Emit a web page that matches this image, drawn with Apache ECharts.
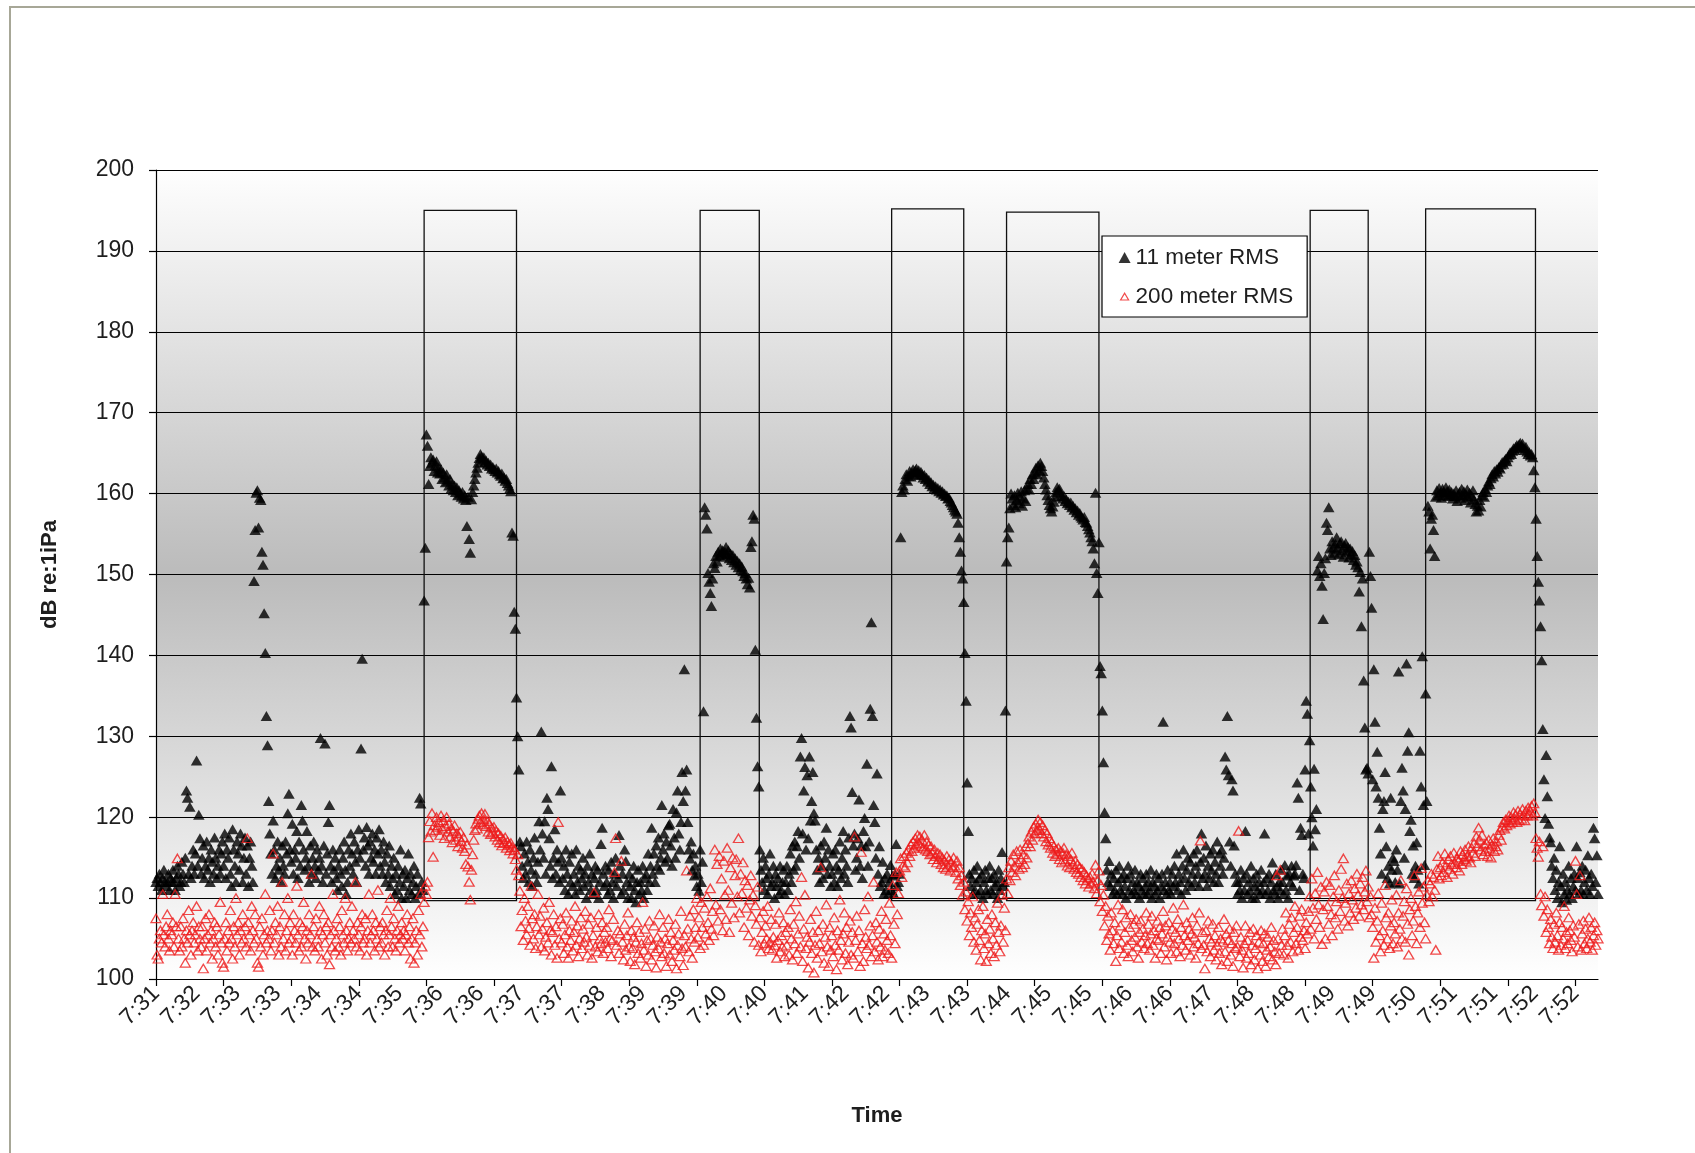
<!DOCTYPE html>
<html>
<head>
<meta charset="utf-8">
<script src="https://cdn.jsdelivr.net/npm/echarts@6/dist/echarts.min.js"></script>
<style>
  html, body { margin: 0; padding: 0; background: #ffffff; }
  #chart { width: 1695px; height: 1153px; }
</style>
</head>
<body>
<div id="chart"></div>
<script>
// Time labels along the x axis, one every 36 s from the first sample
const timeLabels = ['7:31','7:32','7:33','7:33','7:34','7:34','7:35','7:36','7:36','7:37','7:37','7:38',
  '7:39','7:39','7:40','7:40','7:41','7:42','7:42','7:43','7:43','7:44','7:45','7:45',
  '7:46','7:46','7:47','7:48','7:48','7:49','7:49','7:50','7:51','7:51','7:52','7:52'];
const labelStep = 36;   // seconds between time labels
const tickStep = 60;    // seconds between tick marks
const sampleStep = 1;   // seconds between samples
const axisEnd = 1280;   // seconds covered by the record

// Received level at 11 m, dB re 1 uPa, one value per second
const near11m = [
  112,112.5,111.5,113,112,111,112.5,113.5,112,111.5,112,113,111,112.5,112,113.5,112,111,112.5,114,
  113,111.5,112,114.5,113,112,115,123.3,122.4,113,121.3,112.5,114,116,113,115.5,127,114,120.3,117.4,
  113,115,116.5,112.5,114,117,113.5,115,112,116,114.5,113,117.5,115,112.5,114,116,113,115.5,117,
  114,118,112.5,116,115,117.5,113,111.5,118.5,116,114,112,117,115.5,113.5,118,116.5,112,115,117.5,
  113,116.5,111.5,115,117,114,112,149.2,155.5,160.1,160.4,155.8,159.5,159.2,152.8,151.2,145.2,140.3,132.5,128.9,
  122,118,115.5,113,119.6,116,112.5,114,117,113.5,115,112,116.5,114,113,117,115.5,120.5,122.9,116,
  114.5,119.2,113,116,115,118.3,112.5,117,114,121.5,119.6,116,113.5,115,118.3,114,112,116.5,113,115,
  117,114,112.5,116,113.5,115,129.8,114,112,116.5,129.1,113,115.5,119.4,121.5,114,112,116,113.5,115,
  112.5,111,114,116,113,111.5,115,117,113.5,110.5,112,116,114,118,115.5,113,117,114.5,112,116,
  118.5,115,128.5,139.6,116,117.5,114,118.8,116.5,113,117,115,118,114.5,116,113,117.5,115.5,118.5,114,
  116,113,117,114.5,112,115.5,113,116.5,111.5,114,112.5,115,110.5,113,111,114,112,116,110,113,
  111.5,113.5,110,112.5,115.5,111,113,110.5,112,114,110,111.5,113,110.5,122.4,121.7,112,111,146.8,153.3,
  167.3,165.9,161.2,163.4,164.5,163.8,164.2,162.8,163.5,164,162.6,163.2,162.5,163,161.8,162.6,162,161.4,162.4,161.6,
  161,161.8,160.6,161.2,160.4,161,160.2,160.8,159.8,160.4,160,159.6,160.2,159.4,159.8,159.2,156,159.6,154.4,152.7,
  159.3,160.2,161,161.8,162.6,163.2,163.8,164.4,164.9,164.6,164.2,164.5,163.9,164.1,163.6,163.8,163.4,163.6,163.1,163.3,
  163,162.8,163.1,162.6,162.8,162.4,162.2,162.5,161.9,162,161.6,161.8,161.3,161,160.6,160.3,155.2,154.8,145.4,143.3,
  134.8,130,125.9,117,116.4,114,112.5,115.5,113,117,114.5,112,116,113.5,111.5,115,117.5,113,112,114.5,
  119.5,116,130.6,118,115,119.5,113,122.4,121,117.4,114,126.3,112.5,115,118.5,113,116,114.5,112,123.3,
  115,112.5,114,111,116,113,110.5,114.5,112,115.5,111.5,113,110.5,116,112,114,111,113.5,112.5,115,
  111.5,113,110,114,112,115.5,111,113,110.5,112.5,114,111,113.5,110,112,116.7,118.7,113,111.5,114,
  112,110.5,113.5,111,114.5,112,110,113,115,111.5,112.5,117.8,114,110.5,113,111,116,114.6,112,110,
  113,111.5,110,112.5,114,111,109.5,112,113.5,110.5,112,111,114,110,112.5,113,111,115.5,112,114,
  118.7,113,115.5,112,116.5,114,117.5,113.5,115,121.5,116,118,114.5,117,115,119,119.2,116.5,114,121,
  117.5,115,120.6,123.3,118,116,119.4,125.6,122,138.3,123.3,125.9,119.4,116,114.9,117,113.5,115.5,112.8,114,
  111.5,113,110.9,116,112,114.5,133.1,158.3,157.4,155.7,150.2,149.1,147.7,146.1,149.5,151.4,150.8,152.3,151.6,152.8,
  152.4,153.2,152.6,153,152.2,152.8,153.4,152.5,153,152,152.6,151.8,152.4,151.5,152,151.2,151.7,150.9,151.4,150.6,
  151,150.4,149.8,150.2,149.5,148.8,149.6,148.4,153.4,154.1,157.4,156.9,140.7,132.3,126.3,123.8,116,113.5,112,115,
  111,114,112.5,110.5,113,115.5,111.5,112,114,110,113,111.5,112.5,110.5,114,111,112,113.5,110.5,112,
  114,111,113,115.5,112,116.5,113.5,117,114,116.4,118.3,115,127.5,129.8,118,123.3,126.2,116,125.2,117.4,
  127.5,119.6,122,125.6,120.5,119.6,116,113.5,115,112,116.5,114,112.5,117,115,118.7,113,116,114,111.5,
  113,115.5,112,116,114,111.5,113.5,117,112.5,115,118.3,113,116,114,112,117.5,132.5,131.1,123.1,116.5,
  118,113.5,115,117.4,122.2,114,116.5,112.5,118.3,119.9,116.4,126.6,114,117,133.4,144.1,132.5,121.5,119.4,115,
  125.4,113,116.4,111.5,112,114.5,110.5,112.5,111,113,110.5,112,114.1,111,112.8,110.5,113,116.7,111.5,112,
  113,154.6,160.2,161,160.5,161.8,162.4,161.6,162.2,162.8,162.1,162.6,163,162.4,162.9,163.1,162.6,162.9,162.3,162.7,
  162.4,162,162.3,161.8,162,161.5,161.7,161.2,161.4,160.9,161.1,160.7,160.9,160.5,160.7,160.3,160.5,160.1,160.3,159.9,
  160,159.7,159.8,159.4,159.5,159.1,158.9,158.6,158.3,158,157.8,157.5,156.4,154.6,152.8,150.5,149.5,146.6,140.3,134.4,
  124.3,118.3,113,111.5,112.5,110.5,113.5,111,112,114,110.5,112.5,111,113,110,112,113.5,111,110.5,112.5,
  114,111,112.5,110.5,113,111.5,112,110,113.5,111,112.5,115.7,111.5,112,133.2,151.6,154.6,155.8,158.2,160,
  159.4,158.6,159.8,158.3,159.2,160.1,158.8,159.6,160.3,158.5,159.4,160.4,159.1,160.6,161.2,160.5,161.8,161.2,162.4,161.8,
  162.6,163.2,162.4,163.5,162.9,163.8,163.4,162.8,162,161.2,160.5,159.8,159.2,158.6,158.2,157.8,158.4,159,159.6,160.2,
  160.8,160.4,160.6,160,159.7,159.4,159.7,159.1,159.3,158.8,159,158.6,158.9,158.3,158.5,158,158.2,157.7,157.9,157.4,
  157.6,157.2,157,156.8,157.1,156.5,156.4,156,155.6,155.2,154.6,154.1,153.2,151.4,160.1,150.2,147.7,154,138.7,137.8,
  133.2,126.8,120.6,117.4,113.5,112,114.6,111.5,113,110.5,112.5,111,113.5,110.5,112,114,111,112.5,110.5,113,
  111.5,110,112.5,114,111,113,110.5,112,111,113.5,110.5,112,111.5,110,113,111,112.5,110.5,111.5,113,
  110.5,112,111,113.5,110,112,111.5,110.5,113,111,112.5,110,111.5,113,131.8,111,112,110.5,113.5,111,
  112,110.5,113,111.5,114,112,115.5,111,113,112,110.5,114,116,112.5,111,113.5,115,112,114.5,111.5,
  113,115.5,112,114,116,113,111.5,114.5,118,112.5,115,113,116.5,111.5,114,112.5,115.5,113.5,116,112,
  114.5,113,117,112,115.5,114,116,113,115,127.5,125.9,132.5,125.2,117,114,124.7,123.3,116.5,113,112,
  110.5,112,111,113.5,110,112.5,111,118.3,113,110.5,112,111,114,110,112.5,111.5,110,113,111,112,
  110.5,113.5,111,112,118,110.5,112.5,111,113,110,112,114.4,111,110.5,113,111.5,110,112,111,113.5,
  112,110.5,114.1,111,112.8,110,113,112,114,111.5,112.8,113,114.1,124.3,122.4,111,118.7,117.8,113,112.5,
  125.9,134.4,132.8,118,129.5,123.8,120,116.5,126,118.5,121,150.5,152.3,149.8,151.4,148.6,144.5,150.2,152,156.4,
  155.5,158.3,153.2,152.4,154.1,153.4,152.7,153.8,154.6,153.2,152.5,153.9,154.1,153,152.2,153.6,153.9,152.8,153.4,152.1,
  153.2,152.5,152.9,151.8,152.4,151.2,151.6,150.9,147.9,150.3,143.6,149.5,136.9,131.1,125.9,126.1,125.4,152.8,149.8,145.9,
  124.7,138.3,131.8,123.8,128.1,122.4,118.7,115.5,113,121,122,125.6,116.4,112.5,114,111.8,122.4,113.5,115,114.6,
  112,116,113.5,138,111.8,122,126.1,123.3,115,121,139,128.2,130.5,118.3,119.7,113,116.5,112.5,114,116.9,
  113.5,111.8,128.2,123.8,139.9,121.5,114.1,135.3,122,158.5,157.8,153.2,156.9,157.4,155.5,152.3,159.6,160.4,159.8,160.7,
  160.1,159.5,160.6,160.2,159.8,160.8,160.3,159.7,160.5,159.9,160.2,159.4,160,159.7,160.4,159.1,159.8,160.2,159.5,160.6,
  159.8,160.3,159.2,159.9,160.5,159.6,160.1,158.9,159.7,160.4,159.3,158.7,157.8,158.5,157.9,159.2,158.4,159.8,160.2,159.6,
  160.6,160.2,161,161.5,161.2,161.9,162.4,162.1,162.8,162.5,163,162.7,163.3,163.1,163.6,163.9,163.7,164.1,164.3,164,
  164.5,164.8,165.1,164.9,165.3,165.6,165.4,165.8,166,165.7,166.1,166.3,165.9,166.2,165.6,165.4,165.8,165.2,164.9,165.1,
  164.7,164.9,164.5,162.9,160.8,156.9,152.3,149.1,146.8,143.6,139.4,130.9,124.7,119.9,127.7,122.6,119.2,117.5,116.9,114,
  112.5,115,111,113.5,110,112,116.4,111.5,109.5,113,110.5,112,109.8,111,114,110.5,112.5,110,111.5,113,
  111,116.4,112.5,110.5,113.2,111,114,110.5,112,113.5,111,115.3,112.5,110.5,113,111.5,118.7,117.4,112,115.3,110.5
];

// Received level at 200 m, dB re 1 uPa, one value per second
const far200m = [
  107.5,103,102.5,105,106,104.5,110.5,105.5,104,106.5,108,105,103.5,106,105.5,107,104,110.5,106.5,114.9,
  105,103.5,106.5,104,107.5,105,102,106,104.5,108.5,105.5,103,106,107,104.5,105.5,109,103.5,106.5,105,
  104,106.5,101.3,105,107.5,103.5,105.5,108,104.5,106,102.5,105,107,104,106.5,103,105.5,109.5,104.5,102,
  101.5,105,107,103.5,106,104.5,108.5,105,102.5,106.5,104,110,105.5,107,103,106,104.5,108,105,106.5,
  104,117.4,107,105.5,103.5,109,106,104.5,108,105,102,101.5,106.5,104,107.5,103,105.5,110.5,104.5,106,
  105,108.5,103.5,106,115.5,104.5,107,105.5,109,103,106.5,104,112,105,108,103.5,106,110,104.5,107,
  105,103,108,106,104.5,111.5,105.5,103.5,107,104,106.5,109.5,105,102.5,106,104.5,108,105.5,113,104,
  106.5,103.5,107.5,105,104,109,106,102.5,105.5,108,104.5,106.5,103,107,101.8,105.5,104,110.5,106,103.5,
  105,107.5,104,106.5,103,108.5,105.5,104.5,110,106,103.5,105,107,104.5,109,106,105,112,104,107,
  105.5,103.5,106.5,108,104.5,105,107.5,103,106,110.5,104.5,105.5,108,106,103.5,107,105,111,104,106.5,
  104.5,107,105.5,103,106,108.5,104,105.5,110,106.5,104,107.5,105,103.5,106,109,104.5,105.5,107,105,
  106,103.5,105.5,108,104.5,106.5,102.5,105,107.5,102,104.5,106,103,108.5,105.5,110.5,104,106.5,109.5,111.5,
  110.5,112,117.5,119.5,118.2,120.5,115.1,119,118.4,120,118.8,119.4,117.8,120.2,118.6,119.6,117.4,118.9,120,118.2,
  119.2,117.6,118.6,116.9,118.3,119,117.2,118,116.4,117.6,118.2,117,116.2,117.5,115.8,114.2,116.6,113.9,112,109.8,
  113.5,115.4,117.2,118.4,119.2,118.6,119.8,120.2,119.4,120.5,119.1,119.7,120.4,118.9,119.5,118.2,119.2,117.9,118.7,118.1,
  118.8,117.6,118.3,117.2,118,116.9,117.7,116.5,117.3,116.8,117.5,116.2,117,116.6,115.9,116.8,116.3,115.5,116,114.8,
  113.5,115.4,112.8,110.9,106.5,108.5,104.8,110,107.2,105.5,109,106.3,104.2,111.5,107.5,105,108,103.8,106.5,110.5,
  105.5,107.8,104,106.2,108.8,103.5,105.2,107,104.5,109.5,106,103,105.8,108,104.2,106.5,102.6,119.4,105,107.5,
  104.5,106.8,103.2,105.5,108.2,104,102.6,106,104.8,107.2,103.5,105.8,109,104.2,106.6,102.8,105,107.6,103.8,106.2,
  104.6,108.4,105.2,103,106.8,104.2,107.6,102.6,105.4,110.7,104,106.4,103.4,108,105,104.4,107,103.2,105.8,104.6,
  106.4,103.8,108.6,105,102.8,104.8,107.4,113.2,117.4,104.2,106,103.2,105.6,114.6,104.6,102.4,106.8,103.6,105.4,108.2,
  104,102.2,106,103.8,105.2,101.8,104.6,107,103.2,105.8,102.6,104.4,109.5,103.6,106.2,101.6,104.8,103,107.2,105,
  102.4,104.2,106.6,103.4,101.4,105.2,103.8,108,104.6,102.8,106.4,103.2,105,101.6,104.4,107.4,103,105.8,102.2,104.8,
  103.6,106.8,101.3,104.2,105.6,102.8,108.4,103.8,101.7,105.4,104,113.4,106.2,103.4,107.8,105,102.6,108.6,104.6,106.4,
  110,105.2,107.6,103.8,109.5,106.4,104.2,108.8,105.6,110.2,107,104.8,111.2,106.2,108.4,105.4,116,109.2,114.2,107.2,
  115.2,108.6,112.4,106,114.6,110.4,107.4,116.2,111,105.8,113.8,109.4,115,107.6,112.8,114.8,110.2,117.4,108.2,113,
  110.6,114.4,106.4,112.2,108.8,111.6,105.4,109.8,112.8,107.8,110.4,104.6,109.1,106.8,111.4,104.2,107.6,103.4,105.8,108.4,
  104.4,106.6,105,109,103.8,104.6,107.4,103.6,105.2,104.2,106.8,102.6,104.8,108.2,103.4,105.4,104,107,102.8,105.8,
  104.2,106.4,103,108.6,105,102.4,106.8,104.4,109.6,103.2,105.6,107.8,104,112.6,102.2,106.2,110.4,103.8,105.2,101.4,
  104.6,107.4,103.2,105.8,100.8,104.2,108.4,102.6,106,104.4,113.8,103.4,106.8,102,105.2,109.2,104,101.6,106.4,103.6,
  105.4,102.8,107.6,104.2,101.2,106,103.6,109.8,104.8,102.4,105.6,108.2,103.2,106.4,101.8,104.6,107.2,103,105.8,102.6,
  117.6,104.8,107.8,103.4,106,101.6,115.7,104.4,102.2,108.6,105.2,103.8,110.2,104.2,106.6,102.8,105.4,112,103.4,107,
  104.6,102.4,106.2,104,108.4,102.8,105.6,103.6,107.4,104.8,103.2,109.4,105.4,102.6,111.6,106.8,104.4,113.2,108,110.6,
  113.4,114.9,112.6,114,115.2,113.8,115.6,114.4,116,115.2,116.6,115.8,117,116.2,117.4,116.6,117.8,116.8,117.6,116.4,
  117.2,116.2,117.8,116,117,115.8,116.6,115.4,116.4,115.6,114.8,116,115.2,114.4,115.6,114.8,115.4,114.2,115,113.8,
  114.6,113.6,115.2,114,114.8,113.4,114.4,113.8,115,114,113.2,114.6,112.4,113.8,111.6,112.8,110.4,112,108.6,110.8,
  107.2,109.6,105.4,108.2,106.4,110.2,104.6,107.6,103.6,106.8,108.6,104.8,102.4,106,109,103.8,105.6,102.2,107.4,104.4,
  106.2,103.2,108,105,102.8,107,104.2,109.4,105.8,103.4,106.6,110.4,104.6,108.8,106,112.4,110.6,113.8,112.2,114.6,
  113.2,115.4,114,112.8,115.8,114.4,113.6,116,114.8,113.8,115.4,114.2,116.4,115,116.8,117.6,116.4,118.2,117.2,118.8,
  118,119.2,118.4,119.7,118.6,119.4,118,119,117.6,118.4,117,118,116.6,117.4,116.2,116.9,115.6,116.4,115.2,116,
  115.4,116.2,114.8,115.8,114.4,115.6,116.2,114.6,115.4,114,115.2,113.8,114.8,115.6,114.2,113.6,114.6,113.2,114.2,113,
  113.8,112.6,113.6,112.2,113.2,111.8,112.8,112.4,111.4,112.6,111.8,113,112,111.2,114.1,110.6,112.2,113.4,109.6,111.6,
  108.4,110.4,106.6,109,104.8,107.8,105.6,103.6,108.2,106,104.4,107,102.2,105.4,109.2,103.8,106.6,104.6,108.6,103.2,
  105.8,107.6,104.2,102.8,106.4,108,104.8,103.4,106.8,105.2,107.4,104,102.6,105.8,107.2,104.6,106.2,103.8,105.4,108.2,
  104.4,106.8,103.6,105.6,107.8,104.2,106,102.6,105,107.2,104.8,106.4,103.2,105.6,108.4,104,106.6,102.4,105.2,107,
  104.6,103.2,106.2,108.8,104.4,105.8,103.4,107.4,105,102.8,106.4,104.2,109.2,105.4,103.6,107,104.8,106.2,103,105.6,
  107.6,104,105.2,102.6,106.6,104.4,108.2,117.1,103.8,105.8,104.2,101.3,106,103.4,107.2,105,102.8,104.6,106.8,103.6,
  105.4,102.4,104.2,106.4,103.2,105,101.8,104.6,107.4,103.4,105.6,102.2,104.8,106.2,103,104.4,101.6,105.8,103.8,106.6,
  104,118.3,102.8,105.2,103.6,101.4,104.4,106.6,102.6,104.8,103.2,105.8,101.8,104.2,106.2,102.4,103.8,105.4,101.3,104.6,
  103,106,102.2,104.4,105.6,101.6,103.6,105.2,102.8,104,106.4,102.4,104.8,103.4,101.8,112.8,105,103.2,113.5,104.2,
  106.2,103,105.4,108.2,104.2,102.6,106.8,104.6,107.6,103.4,105.8,109,104.4,106.4,103.6,107.8,105.2,108.6,104.8,106,
  103.8,107,105.6,108.4,110.2,106.2,112.4,108.8,105,110.6,107.4,113.2,109.2,106.4,111.4,104.3,108.6,110.8,105,112,
  109,106.8,111.6,108,105.4,110.2,112.8,107.6,109.6,106.2,111,108.4,113.6,110,114.9,107.2,109.4,111.8,106.6,110.6,
  108.2,112.2,109.8,107.4,111.2,108.8,113,110.4,107.8,111.8,109.2,112.6,108.6,110.8,113.4,109.6,111.4,107.6,110.2,108,
  106.4,102.6,108.8,104.6,107.2,110.6,105.4,103.4,109.4,106,104.2,111.6,107.6,105,108.2,103.8,106.6,109.8,104.4,107,
  105.6,110.4,104,108.2,106.2,112.2,105,107.8,109.6,104.6,111.2,106.8,103,108.6,110,105.4,107.2,112.8,109,104.4,
  108.2,110.8,106.4,113.7,109.4,111.4,107,105,110.4,112.2,109.6,111.8,113,110.2,112.6,111,103.6,113.6,115.2,112.4,
  113.8,112.8,114.4,113.2,115.5,114,112.6,114.8,113.6,115.2,114.2,113,115.6,114.4,113.8,115,114.6,113.4,115.8,114.2,
  115.4,114.8,116,114.6,115.2,116.4,115,114.4,116.2,115.6,116.8,115.2,117.6,116.4,118.7,117.2,116,117.8,115.4,116.6,
  115.8,116.8,115.2,117.2,116.2,115,116.6,117.4,115.8,116.4,117,116,117.8,118.4,117.2,118.8,119.4,118.6,119.7,119,
  119.6,120.2,119.2,120,119.4,120.6,119.8,120.3,119.4,120.8,119.6,120.4,119.8,121,120.2,119.6,120.8,120.2,121.2,120.4,
  120.8,121.4,120.2,121.7,120.6,117.4,116.2,115.1,117,110.5,109.1,116.4,107.8,110.2,105.8,108.6,106.4,104.4,107.4,105.2,
  103.8,106.8,104.6,108.2,105.4,103.6,107,104.2,106.4,105,109,103.8,105.8,104.4,107.6,106,104.8,103.4,106.6,105.2,
  114.6,110.5,104,106.8,112.8,103.6,105.6,107.2,104.4,106.2,103.8,105,107.6,104.6,106.4,103.6,105.4,107,104.2,106,105
];

// Airgun firing periods (seconds from start) drawn as outlined boxes
const pulseStart = [238, 483, 653, 755, 1024.5, 1127];
const pulseEnd   = [320, 535.5, 717, 837, 1076, 1224.5];
const pulseTop   = [195, 195, 195.2, 194.8, 195, 195.2];
const pulseBase  = 109.7;

const FONT = '"Liberation Sans", Arial, Helvetica, sans-serif';
const TEXT = '#1e1e1e';

const labelValues = timeLabels.map((_, i) => i * labelStep);
const tickValues = [];
for (let s = 0; s <= axisEnd; s += tickStep) tickValues.push(s);

const chart = echarts.init(document.getElementById('chart'), null, { renderer: 'canvas' });

chart.setOption({
  animation: false,
  backgroundColor: '#ffffff',
  graphic: [{
    type: 'rect',
    silent: true,
    z: -10,
    shape: { x: 10, y: 7, width: 1720, height: 1180 },
    style: { fill: 'none', stroke: '#a7a797', lineWidth: 2 }
  }],
  grid: {
    left: 156, top: 170, width: 1442, height: 809,
    show: true,
    borderWidth: 0,
    backgroundColor: {
      type: 'linear', x: 0, y: 0, x2: 0, y2: 1,
      colorStops: [
        { offset: 0, color: '#fefefe' },
        { offset: 0.5, color: '#bbbbbb' },
        { offset: 1, color: '#ffffff' }
      ]
    },
    containLabel: false,
    outerBoundsMode: 'none'
  },
  legend: {
    orient: 'vertical',
    left: 1102, top: 236,
    padding: [10, 14, 9, 16],
    itemGap: 16,
    itemWidth: 12, itemHeight: 11,
    backgroundColor: '#ffffff',
    borderColor: '#000000',
    borderWidth: 1.2,
    borderRadius: 0,
    textStyle: { fontFamily: FONT, fontSize: 22.5, color: TEXT },
    selectedMode: false,
    data: [
      { name: '11 meter RMS', icon: 'triangle', itemStyle: { color: '#000000', borderWidth: 0 } },
      { name: '200 meter RMS', icon: 'path://M0,0M12,11M2,9L10,9L6,2.2Z',
        itemStyle: { color: 'rgba(255,255,255,0)', borderColor: '#ee1c1c', borderWidth: 1.2 } }
    ]
  },
  xAxis: {
    type: 'value',
    min: 0, max: axisEnd,
    name: 'Time',
    nameLocation: 'middle',
    nameGap: 126,
    nameMoveOverlap: false,
    nameTextStyle: { fontFamily: FONT, fontSize: 22, fontWeight: 'bold', color: TEXT },
    axisLine: { show: true, lineStyle: { color: '#000000', width: 1.2 } },
    axisTick: { show: true, inside: false, length: 7, customValues: tickValues,
      lineStyle: { color: '#000000', width: 1.2 } },
    axisLabel: {
      customValues: labelValues,
      rotate: 45,
      margin: 11,
      fontFamily: FONT, fontSize: 23, color: TEXT,
      formatter: (v) => timeLabels[Math.round(v / labelStep)] || ''
    },
    splitLine: { show: false }
  },
  yAxis: {
    type: 'value',
    min: 100, max: 200, interval: 10,
    name: 'dB re:1iPa',
    nameLocation: 'middle',
    nameGap: 95,
    nameRotate: 90,
    nameMoveOverlap: false,
    nameTextStyle: { fontFamily: FONT, fontSize: 22, fontWeight: 'bold', color: TEXT },
    axisLine: { show: true, lineStyle: { color: '#000000', width: 1.2 } },
    axisTick: { show: true, inside: false, length: 7, lineStyle: { color: '#000000', width: 1.2 } },
    axisLabel: { margin: 22, fontFamily: FONT, fontSize: 23, color: TEXT },
    splitLine: { show: true, lineStyle: { color: '#000000', width: 1.2 } }
  },
  series: [
    {
      name: '11 meter RMS',
      type: 'scatter',
      symbol: 'triangle',
      symbolSize: [11.5, 10],
      itemStyle: { color: '#000000' },
      emphasis: { disabled: true },
      z: 3,
      data: near11m.map((v, i) => [i * sampleStep, v]),
      markArea: {
        silent: true,
        label: { show: false },
        itemStyle: { color: 'rgba(0,0,0,0)', borderColor: '#111111', borderWidth: 1.3 },
        emphasis: { disabled: true },
        data: pulseStart.map((s, i) => [
          { xAxis: s, yAxis: pulseBase },
          { xAxis: pulseEnd[i], yAxis: pulseTop[i] }
        ])
      }
    },
    {
      name: '200 meter RMS',
      type: 'scatter',
      symbol: 'triangle',
      symbolSize: [10, 8.5],
      itemStyle: { color: 'rgba(255,255,255,0)', borderColor: '#ee1c1c', borderWidth: 1.3 },
      emphasis: { disabled: true },
      z: 4,
      data: far200m.map((v, i) => [i * sampleStep, v])
    }
  ]
});
</script>
</body>
</html>
